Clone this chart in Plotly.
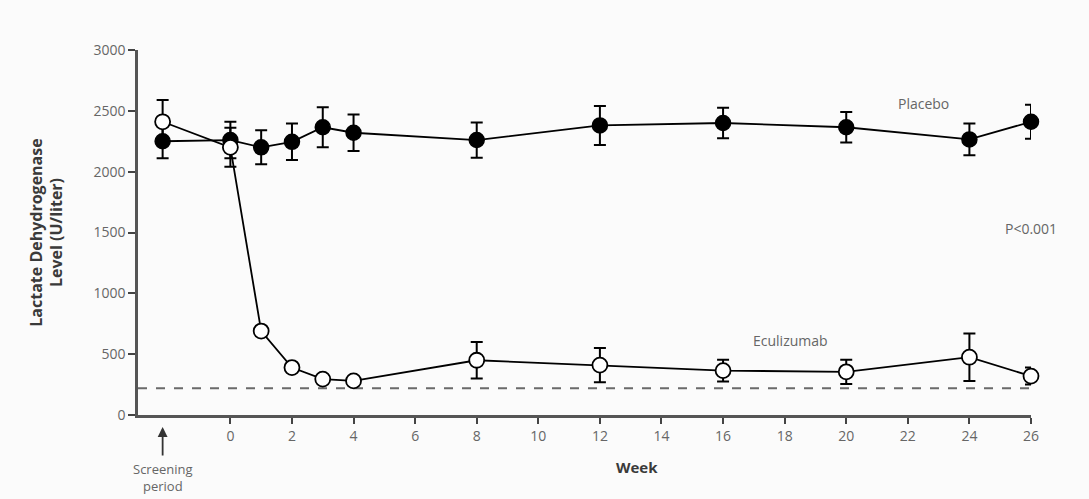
import plotly.graph_objects as go

# ---- data ----
weeks = ["Screening", 0, 1, 2, 3, 4, 8, 12, 16, 20, 24, 26]
placebo_ldh = [2250, 2260, 2200, 2245, 2365, 2320, 2260, 2380, 2400, 2365, 2265, 2410]
placebo_err = [140, 150, 140, 150, 165, 150, 145, 160, 125, 125, 130, 140]
ecu_ldh = [2410, 2200, 690, 390, 295, 280, 450, 410, 365, 355, 475, 320]
ecu_err = [180, 160, 40, 25, 20, 20, 150, 140, 90, 100, 195, 70]
reference_ldh = 220
x_ticks = list(range(0, 27, 2))
y_ticks = [0, 500, 1000, 1500, 2000, 2500, 3000]

SCREEN_X = -2.2  # plotting position for the screening visit
xs = [SCREEN_X if w == "Screening" else w for w in weeks]

FONT = "Open Sans"
GREY = "#666666"
DARK = "#3a3a3a"
FS = 14

fig = go.Figure()

fig.add_trace(go.Scatter(
    x=xs, y=placebo_ldh, mode="lines+markers", name="Placebo",
    line=dict(color="black", width=1.8),
    marker=dict(symbol="circle", size=15, color="black", line=dict(color="black", width=1.5)),
    error_y=dict(type="data", array=placebo_err, color="black", thickness=2, width=6),
    cliponaxis=False,
))
fig.add_trace(go.Scatter(
    x=xs, y=ecu_ldh, mode="lines+markers", name="Eculizumab",
    line=dict(color="black", width=1.8),
    marker=dict(symbol="circle", size=15, color="white", line=dict(color="black", width=1.8)),
    error_y=dict(type="data", array=ecu_err, color="black", thickness=2, width=6),
    cliponaxis=False,
))

fig.add_shape(type="line", xref="x", yref="y", x0=-3, x1=26, y0=reference_ldh, y1=reference_ldh,
              line=dict(color="#6a6a6a", width=2.2, dash="dash"), layer="below")

pw, ph = 1089 - 138 - 58, 499 - 50 - 84

fig.update_layout(
    width=1089, height=499,
    margin=dict(l=138, r=58, t=50, b=84),
    paper_bgcolor="#fbfbfb", plot_bgcolor="#fbfbfb",
    showlegend=False,
    font=dict(family=FONT, size=FS, color=GREY),
    xaxis=dict(range=[-3, 26], tickvals=x_ticks, ticks="outside", ticklen=6, tickwidth=2,
               tickcolor="#444", showline=True, linecolor="#555", linewidth=2.5,
               showgrid=False, zeroline=False, tickfont=dict(size=FS, color=GREY)),
    yaxis=dict(range=[0, 3000], tickvals=y_ticks, ticks="outside",
               ticklen=7, tickwidth=2, tickcolor="#444", showline=True, linecolor="#555", linewidth=2.5,
               showgrid=False, zeroline=False, tickfont=dict(size=FS, color=GREY),
               title=dict(text="<b>Lactate Dehydrogenase<br>Level (U/liter)</b>",
                          font=dict(size=16, color=DARK), standoff=27)),
)

fig.add_annotation(x=(637 - 138) / pw, y=(415 - 467) / ph, xref="paper", yref="paper",
                   text="<b>Week</b>", showarrow=False, yanchor="middle",
                   font=dict(size=15, color=DARK))

fig.add_annotation(x=22.5, y=2560, xref="x", yref="y", text="Placebo", showarrow=False,
                   yanchor="middle", font=dict(size=FS, color=GREY))
fig.add_annotation(x=26, y=1530, xref="x", yref="y", text="P<0.001", showarrow=False,
                   xanchor="center", font=dict(size=FS, color=GREY))
fig.add_annotation(x=18.2, y=610, xref="x", yref="y", text="Eculizumab", showarrow=False,
                   font=dict(size=FS, color=GREY))

fig.add_annotation(x=SCREEN_X, y=(415 - 427) / ph, xref="x", yref="paper",
                   ax=0, ay=30, showarrow=True, arrowhead=2, arrowsize=1.1, arrowwidth=1.8,
                   arrowcolor="#333", text="")
fig.add_annotation(x=SCREEN_X, y=(415 - 458) / ph, xref="x", yref="paper", yanchor="top",
                   text="Screening<br>period", showarrow=False, align="center",
                   font=dict(size=13, color=GREY))

fig.write_html("out.html")
